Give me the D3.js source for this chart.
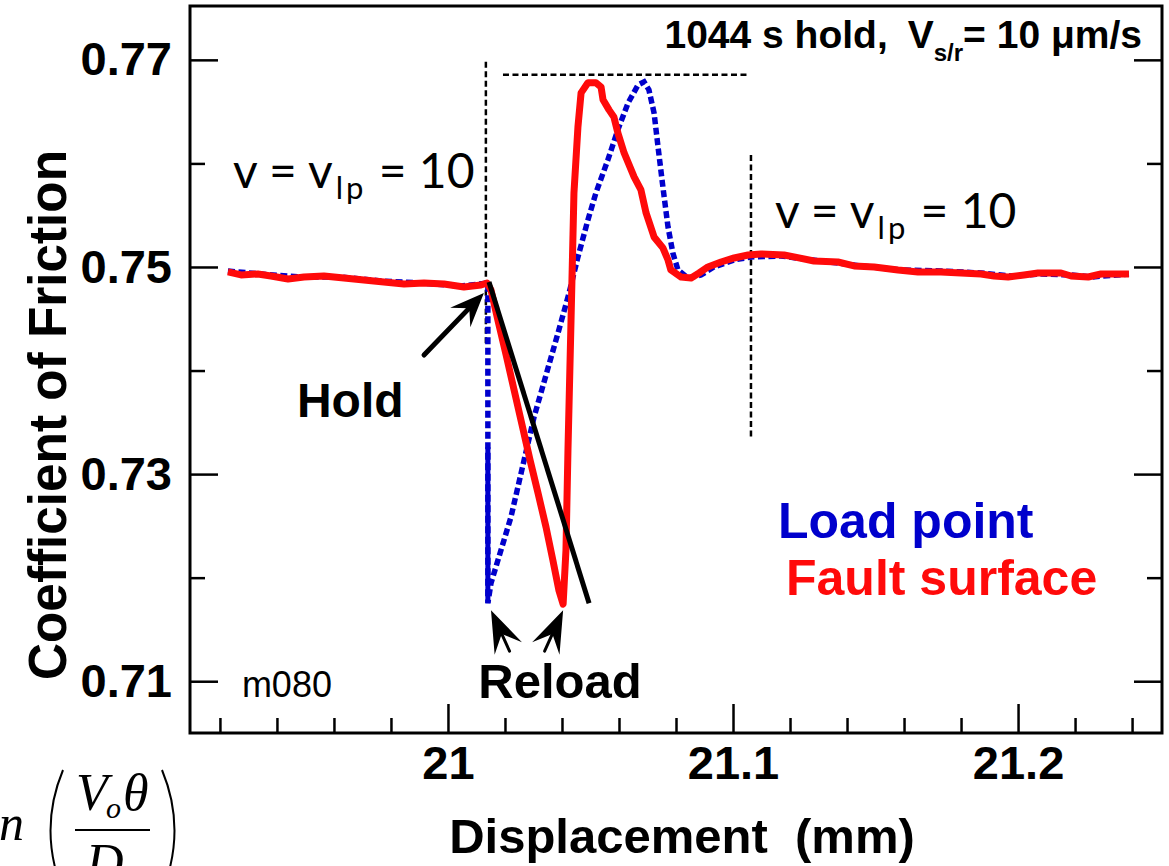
<!DOCTYPE html>
<html>
<head>
<meta charset="UTF-8">
<title>m080 hold</title>
<style>
  body { margin: 0; background: #fff; }
  svg { display: block; }
</style>
</head>
<body>
<div id="chart"></div>
<script src="https://d3js.org/d3.v7.min.js"></script>
<script>
// fault surface (red)
var faultDisp = [20.9228, 20.9274, 20.9333, 20.9379, 20.9439, 20.9495, 20.9565, 20.9635, 20.9705, 20.9775,
  20.9846, 20.9916, 20.9986, 21.0056, 21.0116, 21.0137, 21.0151, 21.0175, 21.0204, 21.0232,
  21.0260, 21.0288, 21.0316, 21.0344, 21.0368, 21.0389, 21.0404, 21.0414, 21.0421, 21.0432,
  21.0442, 21.0456, 21.0467, 21.0491, 21.0519, 21.0537, 21.0544, 21.0565, 21.0582, 21.0596,
  21.0618, 21.0653, 21.0677, 21.0695, 21.0723, 21.0754, 21.0772, 21.0782, 21.0818, 21.0853,
  21.0881, 21.0912, 21.0958, 21.1004, 21.1053, 21.1098, 21.1179, 21.1214, 21.1284, 21.1368,
  21.1425, 21.1495, 21.1579, 21.1649, 21.1730, 21.1800, 21.1870, 21.1916, 21.1965, 21.2021,
  21.2070, 21.2151, 21.2186, 21.2246, 21.2291, 21.2337, 21.2389];
var faultMu = [0.74952, 0.74923, 0.74932, 0.74913, 0.74884, 0.74903, 0.74913, 0.74894, 0.74874, 0.74855,
  0.74836, 0.74845, 0.74836, 0.74807, 0.74826, 0.74845, 0.74778, 0.74488, 0.74150, 0.73812,
  0.73474, 0.73135, 0.72816, 0.72488, 0.72169, 0.71879, 0.71744, 0.72266, 0.73232, 0.74517,
  0.75715, 0.76353, 0.76681, 0.76778, 0.76778, 0.76739, 0.76614, 0.76517, 0.76449, 0.76295,
  0.76101, 0.75870, 0.75744, 0.75522, 0.75290, 0.75184, 0.75068, 0.74971, 0.74903, 0.74894,
  0.74942, 0.75000, 0.75048, 0.75087, 0.75116, 0.75126, 0.75116, 0.75097, 0.75058, 0.75048,
  0.75010, 0.75000, 0.74971, 0.74952, 0.74952, 0.74942, 0.74932, 0.74913, 0.74903, 0.74923,
  0.74942, 0.74942, 0.74913, 0.74903, 0.74932, 0.74932, 0.74932];

// load point (blue)
var loadDisp = [20.9228, 20.9344, 20.9484, 20.9625, 20.9765, 20.9905, 21.0046, 21.0140, 21.0140, 21.0151,
  21.0221, 21.0302, 21.0386, 21.0425, 21.0456, 21.0491, 21.0519, 21.0561, 21.0596, 21.0632,
  21.0667, 21.0688, 21.0705, 21.0723, 21.0737, 21.0754, 21.0772, 21.0789, 21.0807, 21.0842,
  21.0888, 21.0933, 21.1004, 21.1063, 21.1168, 21.1309, 21.1449, 21.1589, 21.1730, 21.1870,
  21.1975, 21.2081, 21.2186, 21.2256, 21.2389];
var loadMu = [0.74961, 0.74932, 0.74903, 0.74903, 0.74865, 0.74845, 0.74816, 0.74845, 0.71754, 0.71947,
  0.72585, 0.73551, 0.74362, 0.74749, 0.75097, 0.75454, 0.75715, 0.76034, 0.76324, 0.76585,
  0.76758, 0.76787, 0.76710, 0.76488, 0.76159, 0.75773, 0.75386, 0.75135, 0.74971, 0.74894,
  0.74923, 0.75000, 0.75068, 0.75097, 0.75106, 0.75058, 0.75010, 0.74971, 0.74961, 0.74942,
  0.74913, 0.74932, 0.74923, 0.74903, 0.74932];
// solid part of the load point drop during the hold
var loadHoldDisp = [21.0140, 21.0140];
var loadHoldMu = [0.73261, 0.71754];

// straight reload fit
var fitDisp = [21.0144, 21.0495];
var fitMu = [0.74855, 0.71754];

var xMajor = [21, 21.1, 21.2];
var xTickLabels = ["21", "21.1", "21.2"];
var xMinor = [20.92, 20.94, 20.96, 20.98, 21.02, 21.04, 21.06, 21.08, 21.12, 21.14, 21.16, 21.18, 21.22, 21.24];
var yMajor = [0.71, 0.73, 0.75, 0.77];
var yTickLabels = ["0.71", "0.73", "0.75", "0.77"];
var yMinor = [0.72, 0.74, 0.76];

var width = 1169, height = 866;
var bold = "'Liberation Sans', Arial, Helvetica, sans-serif";
var blue = "#0000cc", red = "#ff0a0a";

var svg = d3.select("#chart").append("svg")
  .attr("width", width).attr("height", height);

var x = d3.scaleLinear().domain([20.9095, 21.2505]).range([190, 1162]);
var y = d3.scaleLinear().domain([0.705, 0.7752]).range([733, 6]);

function pts(xs, ys) { return xs.map(function(d, i) { return [d, ys[i]]; }); }

var line = d3.line()
  .x(function(d) { return x(d[0]); })
  .y(function(d) { return y(d[1]); });

// axes
function styleAxis(g) {
  g.select(".domain").remove();
  g.selectAll(".tick line").attr("stroke", "#000").attr("stroke-width", 2.5);
  g.selectAll(".tick text").attr("fill", "#000")
    .attr("font-family", bold).attr("font-weight", "bold");
}

svg.append("g").attr("transform", "translate(0," + y(0.705) + ")")
  .call(d3.axisBottom(x).tickValues(xMajor).tickSize(-29).tickPadding(13)
    .tickFormat(function(d, i) { return xTickLabels[i]; }))
  .call(styleAxis)
  .selectAll("text").attr("font-size", 47);
svg.append("g").attr("transform", "translate(0," + y(0.705) + ")")
  .call(d3.axisBottom(x).tickValues(xMinor).tickSize(-15).tickFormat(""))
  .call(styleAxis);

svg.append("g").attr("transform", "translate(" + x(20.9095) + ",0)")
  .call(d3.axisLeft(y).tickValues(yMajor).tickSize(-28).tickPadding(18)
    .tickFormat(function(d, i) { return yTickLabels[i]; }))
  .call(styleAxis)
  .selectAll("text").attr("font-size", 47);
svg.append("g").attr("transform", "translate(" + x(20.9095) + ",0)")
  .call(d3.axisLeft(y).tickValues(yMinor).tickSize(-15).tickFormat(""))
  .call(styleAxis);
svg.append("g").attr("transform", "translate(" + x(21.2505) + ",0)")
  .call(d3.axisRight(y).tickValues(yMajor).tickSize(-28).tickFormat(""))
  .call(styleAxis);
svg.append("g").attr("transform", "translate(" + x(21.2505) + ",0)")
  .call(d3.axisRight(y).tickValues(yMinor).tickSize(-15).tickFormat(""))
  .call(styleAxis);

// frame
svg.append("rect")
  .attr("x", x(20.9095)).attr("y", y(0.7752))
  .attr("width", x(21.2505) - x(20.9095)).attr("height", y(0.705) - y(0.7752))
  .attr("fill", "none").attr("stroke", "#000").attr("stroke-width", 3);

// dashed guides
var guides = [
  [[21.0133, 0.76981], [21.0133, 0.74246]],
  [[21.0193, 0.76855], [21.1056, 0.76855]],
  [[21.1063, 0.76082], [21.1063, 0.73329]]
];
svg.append("g").selectAll("path").data(guides).join("path")
  .attr("d", line).attr("fill", "none")
  .attr("stroke", "#000").attr("stroke-width", 2.5).attr("stroke-dasharray", "6,3.5");

// series
svg.append("path").datum(pts(loadDisp, loadMu))
  .attr("d", line).attr("fill", "none")
  .attr("stroke", blue).attr("stroke-width", 5.5).attr("stroke-dasharray", "7,3.5");
svg.append("path").datum(pts(loadHoldDisp, loadHoldMu))
  .attr("d", line).attr("fill", "none")
  .attr("stroke", blue).attr("stroke-width", 5);
svg.append("path").datum(pts(faultDisp, faultMu))
  .attr("d", line).attr("fill", "none")
  .attr("stroke", red).attr("stroke-width", 7).attr("stroke-linejoin", "round");
svg.append("path").datum(pts(fitDisp, fitMu))
  .attr("d", line).attr("fill", "none")
  .attr("stroke", "#000").attr("stroke-width", 5);

// arrows
function arrow(tail, tip, len, half, shaft) {
  var x0 = x(tail[0]), y0 = y(tail[1]), x1 = x(tip[0]), y1 = y(tip[1]);
  var dx = x1 - x0, dy = y1 - y0, d = Math.hypot(dx, dy);
  var ux = dx / d, uy = dy / d, px = -uy, py = ux;
  var bx = x1 - ux * len, by = y1 - uy * len;
  var nx = x1 - ux * len * 0.62, ny = y1 - uy * len * 0.62;
  var g = svg.append("g");
  g.append("line").attr("x1", x0).attr("y1", y0).attr("x2", nx).attr("y2", ny)
    .attr("stroke", "#000").attr("stroke-width", shaft).attr("stroke-linecap", "round");
  g.append("path")
    .attr("d", "M" + x1 + "," + y1 + "L" + (bx + px * half) + "," + (by + py * half) +
      "L" + nx + "," + ny + "L" + (bx - px * half) + "," + (by - py * half) + "Z")
    .attr("fill", "#000");
}
arrow([20.9916, 0.74150], [21.0126, 0.74749], 34, 14, 5);
arrow([21.0216, 0.71290], [21.0151, 0.71686], 42, 15, 3);
arrow([21.0339, 0.71290], [21.0404, 0.71686], 42, 15, 3);

// annotations
function note(t, dx, dy, size, weight, color, anchor) {
  return svg.append("text").attr("x", x(dx)).attr("y", y(dy))
    .attr("font-family", bold).attr("font-size", size).attr("font-weight", weight)
    .attr("fill", color).attr("text-anchor", anchor || "start").text(t);
}
note("Hold", 20.9470, 0.73551, 48, "bold", "#000");
note("Reload", 21.0393, 0.70836, 49, "bold", "#000", "middle");
note("m080", 20.9277, 0.70845, 36, "normal", "#000");
note("Load point", 21.1158, 0.72382, 50, "bold", blue);
note("Fault surface", 21.1186, 0.71831, 50, "bold", red);

function vlp(dx, dy) {
  var t = svg.append("text").attr("x", x(dx)).attr("y", y(dy))
    .attr("font-family", "Lato, 'Open Sans', sans-serif").attr("font-size", 48).attr("fill", "#000");
  t.append("tspan").text("v = v");
  t.append("tspan").attr("font-size", 31).attr("dy", 11).attr("dx", 3).attr("letter-spacing", 3).text("lp");
  t.append("tspan").attr("dy", -11).text(" = 10");
}
vlp(20.9246, 0.75763);
vlp(21.1147, 0.75377);

// title
var title = svg.append("text").attr("x", 1142).attr("y", 48)
  .attr("text-anchor", "end").attr("font-family", bold).attr("font-weight", "bold")
  .attr("font-size", 39).attr("fill", "#000");
title.append("tspan").text("1044 s hold,");
title.append("tspan").attr("dx", 20).text("V");
title.append("tspan").attr("font-size", 24).attr("dy", 13).text("s/r");
title.append("tspan").attr("dy", -13).text("= 10 \u03bcm/s");

// axis titles
svg.append("text").attr("x", 682).attr("y", 853)
  .attr("text-anchor", "middle").attr("font-family", bold).attr("font-weight", "bold")
  .attr("font-size", 49).attr("fill", "#000")
  .text("Displacement\u00a0\u00a0(mm)");
svg.append("text").attr("transform", "translate(66,415) rotate(-90)")
  .attr("text-anchor", "middle").attr("font-family", bold).attr("font-weight", "bold")
  .attr("font-size", 53).attr("fill", "#000")
  .attr("textLength", 530).attr("lengthAdjust", "spacingAndGlyphs")
  .text("Coefficient of Friction");

// cropped formula fragment, bottom left
var serif = "'Liberation Serif', 'DejaVu Serif', serif";
var f = svg.append("g").attr("fill", "#000").attr("font-family", serif).attr("font-style", "italic");
f.append("text").attr("x", 24).attr("y", 840).attr("text-anchor", "end").attr("font-size", 50).text("n");
f.append("text").attr("x", 76).attr("y", 810).attr("font-size", 52).text("V");
f.append("text").attr("x", 106).attr("y", 818).attr("font-size", 30).text("o");
f.append("text").attr("x", 123).attr("y", 810).attr("font-size", 52).text("\u03b8");
f.append("text").attr("x", 86).attr("y", 880).attr("font-size", 52).text("D");
f.append("line").attr("x1", 75).attr("x2", 150).attr("y1", 830).attr("y2", 830)
  .attr("stroke", "#000").attr("stroke-width", 2);
f.append("path").attr("d", "M63,770 Q38,830 63,892").attr("fill", "none").attr("stroke", "#000").attr("stroke-width", 2);
f.append("path").attr("d", "M162,770 Q187,830 162,892").attr("fill", "none").attr("stroke", "#000").attr("stroke-width", 2);
</script>
</body>
</html>
